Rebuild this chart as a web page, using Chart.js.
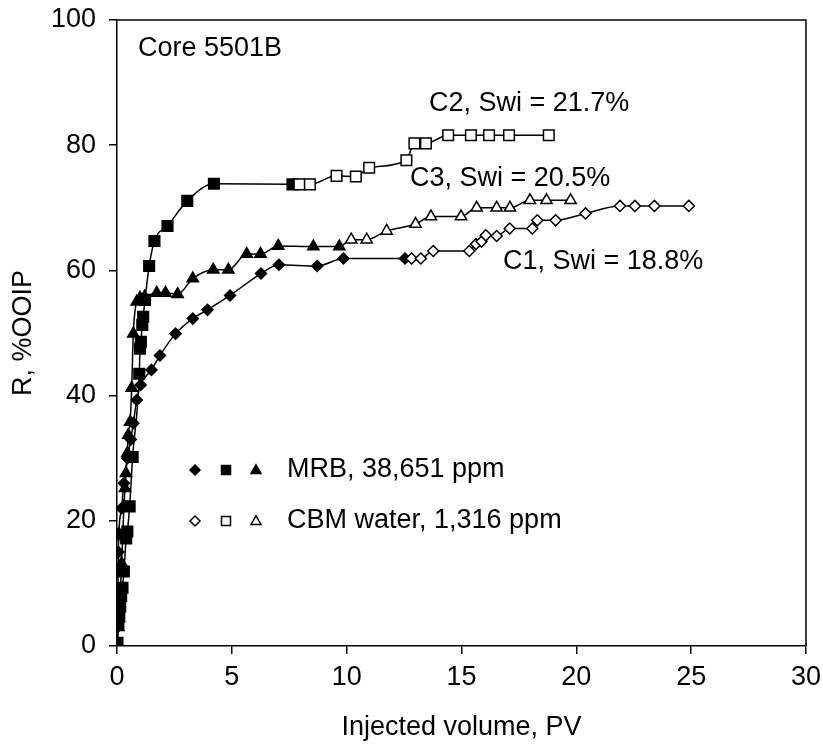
<!DOCTYPE html>
<html><head><meta charset="utf-8">
<script src="https://cdn.jsdelivr.net/npm/chart.js@4.4.0/dist/chart.umd.min.js"></script>
<style>html,body{margin:0;padding:0;background:#fff}</style>
</head><body>
<canvas id="c" width="823" height="744"></canvas>
<script>
// ---- data ----
const xTickValues = [0, 5, 10, 15, 20, 25, 30];
const yTickValues = [0, 20, 40, 60, 80, 100];

// C1 (diamonds)
const c1MrbX = [0, 0.02, 0.03, 0.04, 0.05, 0.06, 0.08, 0.2, 0.3, 0.45, 0.6, 0.71, 0.86, 1.03, 1.5, 1.87, 2.55, 3.3, 3.94, 4.92, 6.27, 7.05, 8.72, 9.86, 12.54];
const c1MrbY = [0, 3, 6, 9, 12, 15, 18, 22, 26, 30, 33, 35.6, 39.3, 41.7, 44.1, 46.4, 49.9, 52.3, 53.7, 56.0, 59.5, 60.9, 60.7, 61.9, 61.9];
const c1CbmX = [12.83, 13.23, 13.77, 15.34, 15.63, 15.87, 16.06, 16.53, 17.1, 18.08, 18.3, 19.1, 20.4, 21.9, 22.55, 23.4, 24.9];
const c1CbmY = [61.9, 61.9, 63.1, 63.1, 64.2, 64.6, 65.6, 65.5, 66.7, 66.7, 68.0, 68.0, 69.1, 70.3, 70.3, 70.3, 70.3];

// C2 (squares)
const c2MrbX = [0.02, 0.06, 0.1, 0.14, 0.18, 0.24, 0.3, 0.4, 0.45, 0.55, 0.68, 0.97, 1.0, 1.04, 1.1, 1.14, 1.22, 1.4, 1.63, 2.2, 3.06, 4.22, 7.64];
const c2MrbY = [0.5, 3.4, 4.7, 6.3, 8, 9.3, 11.9, 17.2, 18.3, 22.3, 30.2, 43.5, 47.5, 48.6, 51.3, 52.6, 55.3, 60.7, 64.7, 67.1, 71.1, 73.85, 73.75];
const c2CbmX = [7.94, 8.4, 9.56, 10.4, 10.98, 12.6, 12.95, 13.45, 14.42, 15.41, 16.2, 17.07, 18.8];
const c2CbmY = [73.75, 73.75, 75.1, 75.0, 76.4, 77.6, 80.3, 80.3, 81.6, 81.6, 81.6, 81.6, 81.6];

// C3 (triangles)
const c3MrbX = [0, 0.05, 0.1, 0.15, 0.2, 0.25, 0.3, 0.35, 0.39, 0.45, 0.49, 0.57, 0.64, 0.71, 0.86, 1.0, 1.2, 1.73, 2.11, 2.64, 3.3, 4.19, 4.85, 5.65, 6.25, 7.02, 8.55, 9.68];
const c3MrbY = [0, 3, 6, 9, 13.2, 17.5, 22.3, 25.2, 27.6, 30.8, 33.7, 35.8, 41.2, 49.9, 55, 55.6, 55.8, 56.4, 56.4, 56.2, 58.7, 60.1, 60.1, 62.6, 62.6, 63.9, 63.8, 63.8];
const c3CbmX = [10.2, 10.87, 11.74, 13.0, 13.67, 14.98, 15.66, 16.53, 17.11, 17.98, 18.7, 19.75];
const c3CbmY = [64.9, 64.9, 66.3, 67.4, 68.6, 68.6, 70.0, 70.0, 70.0, 71.2, 71.2, 71.2];

const curveLabels = ['C1, Swi = 18.8%', 'C2, Swi = 21.7%', 'C3, Swi = 20.5%'];
const legendLabels = ['MRB, 38,651 ppm', 'CBM water, 1,316 ppm'];
const coreLabel = 'Core 5501B';

// ---- build ----
const FONT = "'Liberation Sans', Arial, sans-serif";
const FS = 27;
function pts(xs, ys) { return xs.map((x, i) => ({ x: x, y: ys[i] })); }

function makeSet(label, mx, my, cx, cy, style, radius) {
  const n = mx.length;
  return {
    label: label,
    data: pts(mx, my).concat(pts(cx, cy)),
    borderColor: '#000',
    borderWidth: 1.5,
    pointStyle: style,
    pointRadius: radius,
    pointHoverRadius: radius,
    pointBorderWidth: 1.5,
    pointBorderColor: '#000',
    pointBackgroundColor: (ctx) => ctx.dataIndex < n ? '#000' : '#fff',
    cubicInterpolationMode: 'monotone',
    fill: false
  };
}

function drawMarker(ctx, style, x, y, r, filled) {
  ctx.save();
  ctx.beginPath();
  if (style === 'rectRot') {
    ctx.moveTo(x, y - r); ctx.lineTo(x + r, y); ctx.lineTo(x, y + r); ctx.lineTo(x - r, y); ctx.closePath();
  } else if (style === 'rect') {
    ctx.rect(x - r, y - r, 2 * r, 2 * r);
  } else {
    const h = r * 1.73;
    ctx.moveTo(x, y - h * 0.6); ctx.lineTo(x + r, y + h * 0.4); ctx.lineTo(x - r, y + h * 0.4); ctx.closePath();
  }
  ctx.fillStyle = filled ? '#000' : '#fff';
  ctx.fill();
  ctx.lineWidth = 1.5;
  ctx.strokeStyle = '#000';
  ctx.stroke();
  ctx.restore();
}

const overlay = {
  id: 'overlay',
  beforeDatasetsDraw(chart) {
    const { ctx, chartArea: a } = chart;
    ctx.save();
    ctx.strokeStyle = '#000';
    ctx.lineWidth = 1.5;
    ctx.beginPath();
    ctx.moveTo(a.left, a.top); ctx.lineTo(a.right, a.top); ctx.lineTo(a.right, a.bottom);
    ctx.stroke();
    ctx.restore();
  },
  afterDraw(chart) {
    const { ctx } = chart;
    ctx.save();
    ctx.fillStyle = '#000';
    ctx.font = FS + 'px ' + FONT;
    ctx.textBaseline = 'middle';
    ctx.textAlign = 'left';
    ctx.fillText(coreLabel, 138, 49);
    ctx.fillText(curveLabels[1], 429, 104);
    ctx.fillText(curveLabels[2], 410, 179);
    ctx.fillText(curveLabels[0], 503, 262);
    // legend
    const rows = [470, 521];
    rows.forEach((ry, i) => {
      const filled = i === 0;
      drawMarker(ctx, 'rectRot', 195, ry, 5, filled);
      drawMarker(ctx, 'rect', 226, ry, 4.5, filled);
      drawMarker(ctx, 'tri', 256, ry, 5, filled);
      ctx.fillStyle = '#000';
      ctx.fillText(legendLabels[i], 287, ry);
    });
    ctx.restore();
  }
};

new Chart(document.getElementById('c'), {
  type: 'line',
  data: {
    datasets: [
      makeSet(curveLabels[0], c1MrbX, c1MrbY, c1CbmX, c1CbmY, 'rectRot', 5.5),
      makeSet(curveLabels[2], c3MrbX, c3MrbY, c3CbmX, c3CbmY, 'triangle', 6.5),
      makeSet(curveLabels[1], c2MrbX, c2MrbY, c2CbmX, c2CbmY, 'rect', 7.5)
    ]
  },
  options: {
    responsive: false,
    animation: false,
    events: [],
    layout: { padding: { left: 0, right: 17, top: 20, bottom: 0 } },
    plugins: { legend: { display: false }, tooltip: { enabled: false } },
    scales: {
      x: {
        type: 'linear', min: 0, max: 30,
        afterBuildTicks: (s) => { s.ticks = xTickValues.map(v => ({ value: v })); },
        afterFit: (s) => { s.height = 98; s.paddingLeft = 0; s.paddingRight = 0; },
        ticks: { color: '#000', font: { family: FONT, size: FS }, padding: 7, maxRotation: 0, autoSkip: false },
        grid: { display: true, drawOnChartArea: false, drawTicks: true, tickLength: 8, color: '#000', lineWidth: 1.5 },
        border: { display: true, color: '#000', width: 1.5 },
        title: { display: true, text: 'Injected volume, PV', color: '#000', font: { family: FONT, size: FS }, padding: { top: 0, bottom: 0 } }
      },
      y: {
        type: 'linear', min: 0, max: 100,
        afterBuildTicks: (s) => { s.ticks = yTickValues.map(v => ({ value: v })); },
        afterFit: (s) => { s.width = 117; s.paddingTop = 0; s.paddingBottom = 0; },
        ticks: { color: '#000', font: { family: FONT, size: FS }, padding: 13, autoSkip: false },
        grid: { display: true, drawOnChartArea: false, drawTicks: true, tickLength: 8, color: '#000', lineWidth: 1.5 },
        border: { display: true, color: '#000', width: 1.5 },
        title: { display: true, text: 'R, %OOIP', color: '#000', font: { family: FONT, size: FS }, padding: { top: 7, bottom: 0 } }
      }
    }
  },
  plugins: [overlay]
});
</script>
</body></html>
